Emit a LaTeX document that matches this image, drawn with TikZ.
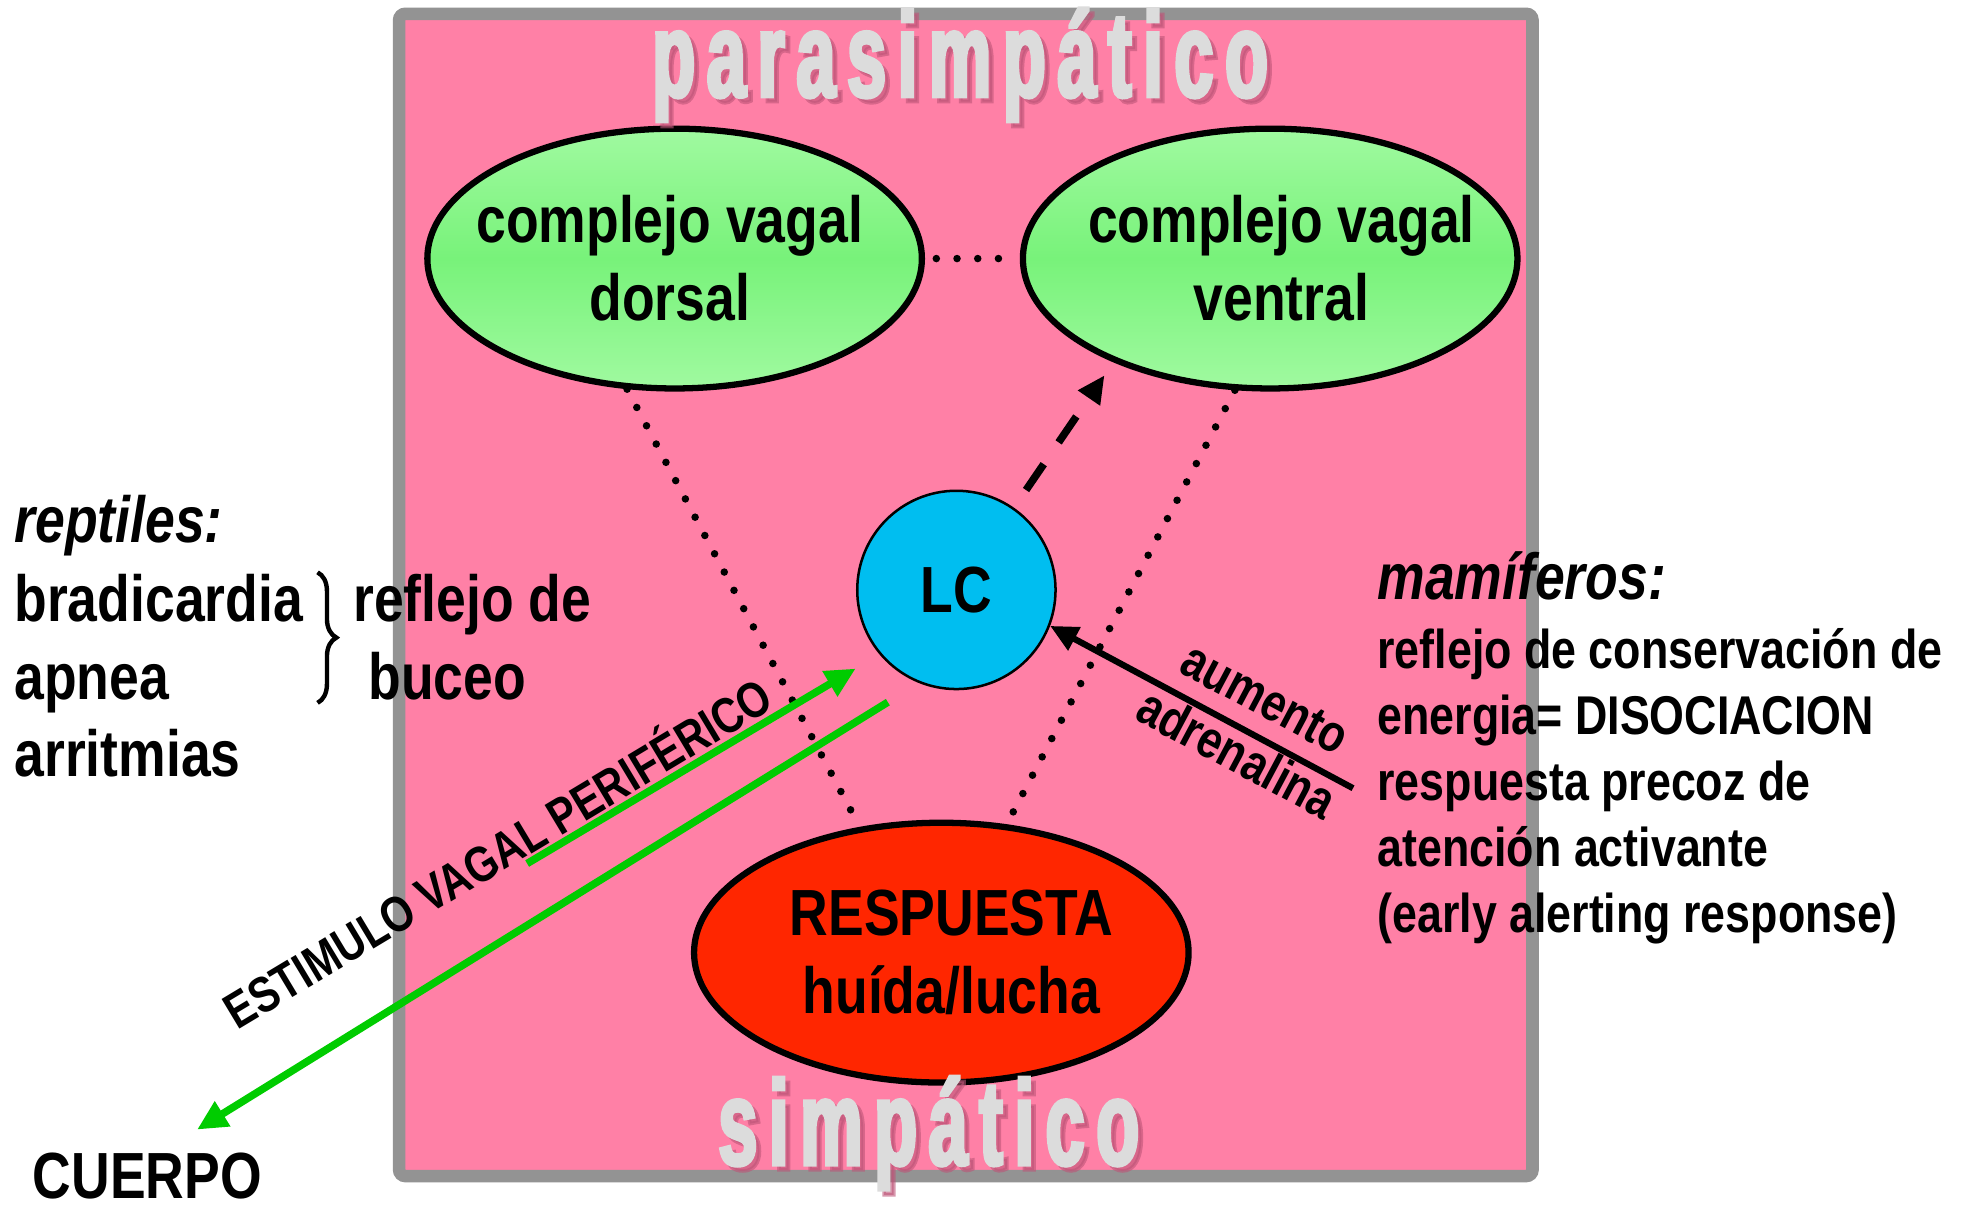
\documentclass[tikz,border=0pt]{standalone}
\usepackage{fontspec}
\setmainfont{Liberation Sans}[FakeStretch=0.82]
\newfontfamily\titlefont{Liberation Sans}[FakeStretch=0.58,LetterSpace=9.8,FakeBold=3]
\usetikzlibrary{arrows.meta,decorations.pathreplacing,shapes.geometric}
\definecolor{pinkbg}{RGB}{255,128,166}
\definecolor{framegray}{RGB}{147,147,147}
\definecolor{greenlight}{RGB}{160,250,160}
\definecolor{greenmid}{RGB}{120,242,122}
\definecolor{redfill}{RGB}{255,38,0}
\definecolor{lcblue}{RGB}{0,190,240}
\definecolor{arrowgreen}{RGB}{0,204,0}
\definecolor{titlegray}{RGB}{220,220,220}
\definecolor{shadowpink}{RGB}{190,85,120}
\tikzset{
  big/.style={font=\bfseries\fontsize{52}{62}\selectfont},
  mid/.style={font=\bfseries\fontsize{43.5}{52.5}\selectfont},
  rot/.style={font=\bfseries\fontsize{42}{48}\selectfont},
  oval/.style={ellipse, draw=black, line width=5pt, minimum width=394pt, minimum height=207pt,
    inner xsep=-90pt, inner ysep=-45pt, align=center, big},
  vagal/.style={oval, top color=greenlight, bottom color=greenlight, middle color=greenmid},
  titletxt/.style={font=\titlefont\bfseries\fontsize{96}{100}\selectfont, text=titlegray, anchor=base},
  titleshadow/.style={font=\titlefont\bfseries\fontsize{96}{100}\selectfont, text=shadowpink, opacity=0.6, anchor=base},
  dots/.style={line width=6pt, line cap=round, dash pattern=on 0pt off 16.5pt},
  greenarrow/.style={draw=arrowgreen, line width=6pt, -{Triangle[length=24pt,width=22pt]}},
}
\begin{document}
\begin{tikzpicture}[x=1pt,y=-1pt]
\useasboundingbox (0,0) rectangle (1568,962);
\fill[white] (0,0) rectangle (1568,962);
% frame
\draw[line width=10pt, draw=framegray, fill=pinkbg, rounded corners=5pt] (318,11) rectangle (1221,937);
% nodes
\node[vagal] (dorsal) at (537.5,206) {\hspace*{-8pt}complejo vagal\\\hspace*{-8pt}dorsal};
\node[vagal] (ventral) at (1012,206) {\hspace*{18pt}complejo vagal\\\hspace*{18pt}ventral};
\node[oval, fill=redfill] (resp) at (750,759) {\hspace*{16pt}RESPUESTA\\\hspace*{16pt}hu\'ida/lucha};
\node[circle, draw=black, line width=2pt, fill=lcblue, minimum size=158pt, inner sep=0pt, big] (lc) at (762,470) {LC};
% dotted connectors
\draw[dots, shorten <=9pt, shorten >=6pt] (dorsal.east) -- (ventral.west);
\draw[dots] (dorsal.-110) -- (resp.123);
\draw[dots] (ventral.-105) -- (resp.63);
% dashed arrow
\coordinate (dtip) at (880,299);
\draw[line width=6pt, dash pattern=on 25pt off 21pt, shorten <=17pt, -{Triangle[length=22pt,width=20pt]}] (lc.55) -- (dtip);
% adrenaline arrow
\coordinate (adr) at (1078,628);
\draw[line width=5pt, -{Triangle[length=22pt,width=20pt]}] (adr) -- (lc.-21);
% green arrows
\coordinate (g1) at (420,688);
\draw[greenarrow, shorten >=22pt] (g1) -- (lc.220);
\coordinate (body) at (157,900);
\draw[greenarrow, shorten <=29pt] (lc.248.5) -- (body);
% rotated labels
\node[rotate=31, font=\bfseries\fontsize{40}{48}\selectfont] (estim) at (395,677) {ESTIMULO VAGAL PERIF\'ERICO};
\node[rotate=-28, rot] (aum) at (1008,557) {aumento};
\node[rotate=-28, rot] (adren) at (986,600) {adrenalina};
% left text
\node[anchor=base west, font=\bfseries\itshape\fontsize{52}{62}\selectfont] (reptiles) at (8,432) {reptiles:};
\node[anchor=base west, big] (brad) at (8,495) {bradicardia};
\node[anchor=base west, big] (apnea) at (8,557) {apnea};
\node[anchor=base west, big] (arrit) at (8,619) {arritmias};
\draw[line width=3.5pt, decorate, decoration={brace, amplitude=15pt}] (253,456) -- (253,560);
\node[anchor=base west, big] (refl) at (278,495) {reflejo de};
\node[anchor=base west, big] (buceo) at (290,557) {buceo};
% right text
\node[anchor=base west, font=\bfseries\itshape\fontsize{52}{62}\selectfont] (mam) at (1094,478) {mam\'iferos:};
\node[anchor=base west, mid] (m1) at (1094,533) {reflejo de conservaci\'on de};
\node[anchor=base west, mid] (m2) at (1094,585) {energia= DISOCIACION};
\node[anchor=base west, mid] (m3) at (1094,638) {respuesta precoz de};
\node[anchor=base west, mid] (m4) at (1094,690) {atenci\'on activante};
\node[anchor=base west, mid] (m5) at (1094,743) {(early alerting response)};
% bottom-left
\node[anchor=base west, big, inner sep=0pt] (cuerpo) at (26,955) {CUERPO};
% titles
\node[titleshadow] (parashadow) at (769,81) {parasimp\'atico};
\node[titletxt] (para) at (765,77) {parasimp\'atico};
\node[titleshadow] (simpshadow) at (744,932) {simp\'atico};
\node[titletxt] (simp) at (740,928) {simp\'atico};
\end{tikzpicture}
\end{document}
